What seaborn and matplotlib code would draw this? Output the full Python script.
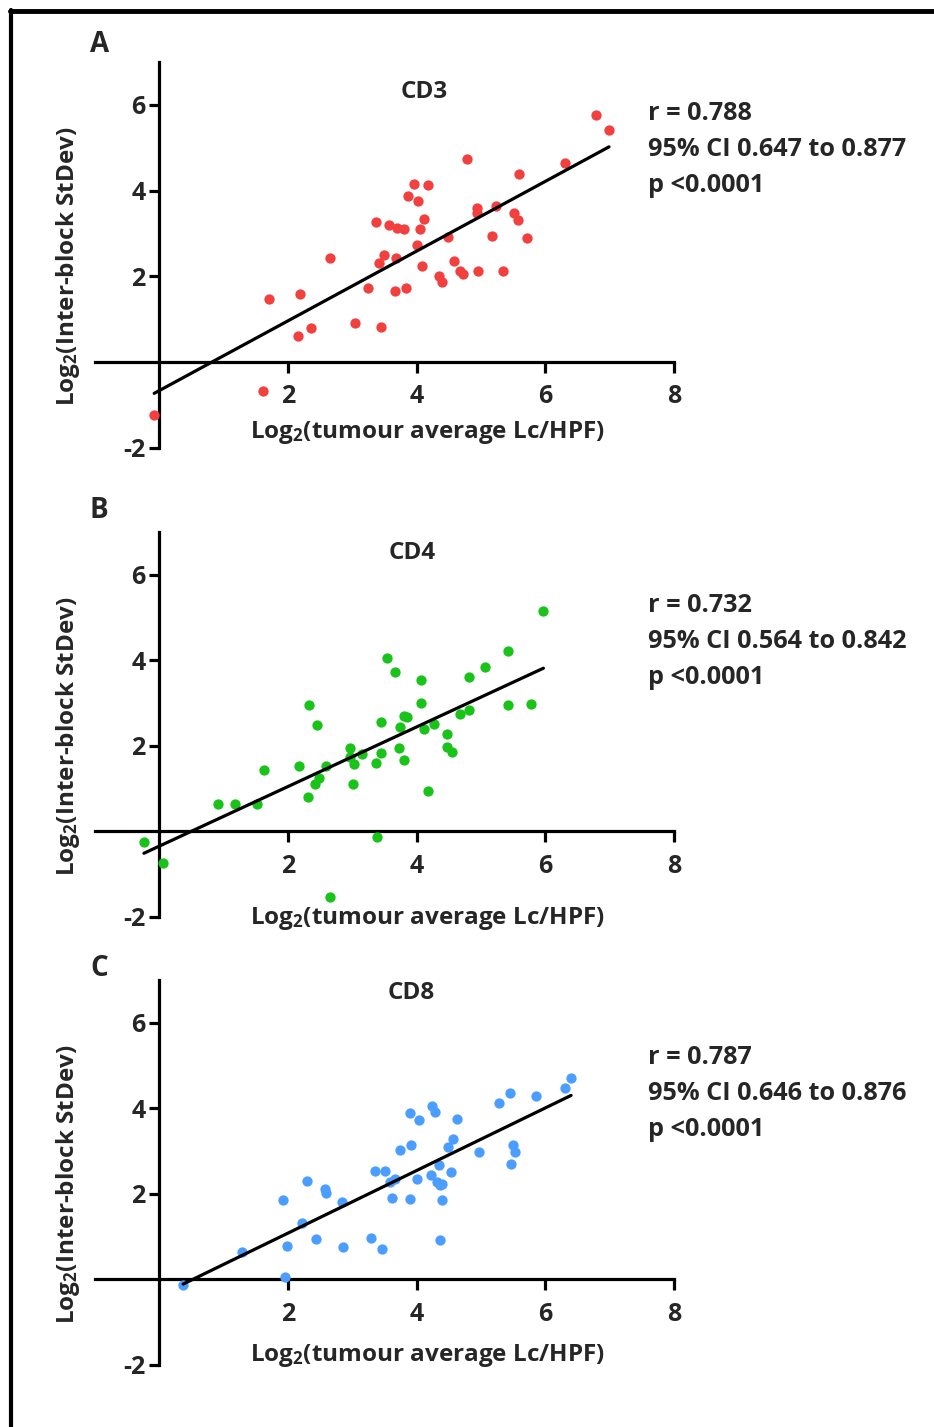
import numpy as np
import pandas as pd
import matplotlib
matplotlib.use("Agg")
import matplotlib.pyplot as plt
from matplotlib.lines import Line2D
import seaborn as sns

# ---------------- data ----------------
cd3_x = [6.78, 6.99, 6.31, 4.78, 5.59, 3.96, 4.17, 3.87, 4.02, 4.94, 4.94, 5.24,
         5.51, 5.58, 4.12, 3.37, 3.57, 3.70, 3.81, 4.05, 5.17, 5.71, 4.48, 4.01,
         3.49, 2.65, 3.68, 3.42, 4.09, 4.58, 4.67, 4.72, 4.96, 5.34, 4.34, 4.39,
         3.24, 3.66, 3.83, 1.71, 2.19, 2.36, 2.16, 3.04, 3.44, 1.61, -0.08]
cd3_y = [5.76, 5.42, 4.65, 4.73, 4.39, 4.16, 4.14, 3.88, 3.75, 3.60, 3.48, 3.65,
         3.47, 3.32, 3.34, 3.27, 3.21, 3.14, 3.10, 3.10, 2.95, 2.90, 2.91, 2.74,
         2.51, 2.44, 2.43, 2.32, 2.25, 2.37, 2.13, 2.05, 2.12, 2.12, 2.02, 1.88,
         1.74, 1.66, 1.74, 1.48, 1.59, 0.79, 0.60, 0.92, 0.82, -0.66, -1.22]

cd4_x = [5.97, 5.42, 3.54, 5.06, 3.67, 4.07, 4.82, 4.06, 2.33, 5.42, 5.78, 4.82,
         4.68, 3.80, 3.85, 2.45, 3.45, 4.27, 3.74, 4.12, 4.47, 2.97, 3.73, 4.47,
         4.55, 3.45, 3.15, 2.97, 3.02, 3.37, 3.80, 2.17, 2.59, 1.63, 2.48, 2.42,
         3.01, 2.31, 4.17, 0.91, 1.17, 1.52, 3.38, -0.24, 0.05, 2.65]
cd4_y = [5.16, 4.22, 4.05, 3.84, 3.72, 3.53, 3.60, 3.01, 2.95, 2.95, 2.97, 2.85,
         2.75, 2.69, 2.68, 2.48, 2.55, 2.52, 2.45, 2.39, 2.27, 1.95, 1.96, 1.98,
         1.85, 1.83, 1.81, 1.73, 1.57, 1.59, 1.67, 1.53, 1.53, 1.43, 1.26, 1.12,
         1.12, 0.81, 0.94, 0.63, 0.63, 0.63, -0.14, -0.24, -0.74, -1.54]

cd8_x = [6.40, 6.31, 5.85, 5.45, 5.28, 4.24, 4.28, 3.89, 4.03, 4.62, 4.56, 3.91,
         5.50, 5.53, 4.48, 3.74, 4.97, 5.46, 4.34, 3.35, 3.51, 4.54, 4.23, 3.66,
         3.59, 4.01, 4.31, 4.37, 4.40, 2.29, 2.57, 2.59, 1.93, 2.84, 3.61, 3.89,
         4.40, 2.21, 1.28, 1.99, 2.43, 3.29, 2.86, 3.46, 4.37, 1.96, 0.37]
cd8_y = [4.70, 4.48, 4.29, 4.35, 4.12, 4.05, 3.91, 3.89, 3.72, 3.74, 3.29, 3.14,
         3.14, 2.99, 3.09, 3.03, 2.98, 2.70, 2.67, 2.54, 2.53, 2.51, 2.44, 2.35,
         2.27, 2.35, 2.28, 2.21, 2.23, 2.29, 2.12, 2.02, 1.85, 1.82, 1.90, 1.88,
         1.85, 1.31, 0.64, 0.78, 0.94, 0.98, 0.76, 0.72, 0.92, 0.05, -0.14]

panel_letters = ["A", "B", "C"]
markers_names = ["CD3", "CD4", "CD8"]
stats_r = ["r = 0.788", "r = 0.732", "r = 0.787"]
stats_ci = ["95% CI 0.647 to 0.877", "95% CI 0.564 to 0.842", "95% CI 0.646 to 0.876"]
stats_p = ["p <0.0001", "p <0.0001", "p <0.0001"]
x_ticks = [2, 4, 6, 8]
y_ticks = [-2, 2, 4, 6]
xlabel = "Log$_2$(tumour average Lc/HPF)"
ylabel = "Log$_2$(Inter-block StDev)"

series = [(cd3_x, cd3_y), (cd4_x, cd4_y), (cd8_x, cd8_y)]
colors = ["#F2403F", "#19C319", "#4B9EFF"]

# ---------------- style ----------------
FONT = "Open Sans"
sns.set_theme(style="white")
plt.rcParams["font.family"] = [FONT, "DejaVu Sans"]
plt.rcParams["font.weight"] = "bold"
plt.rcParams["axes.unicode_minus"] = False
plt.rcParams["mathtext.fontset"] = "custom"
plt.rcParams["mathtext.rm"] = FONT + ":bold"
plt.rcParams["mathtext.it"] = FONT + ":bold"
plt.rcParams["mathtext.bf"] = FONT + ":bold"
plt.rcParams["mathtext.default"] = "rm"

W, H = 934, 1427
fig = plt.figure(figsize=(W / 100, H / 100), dpi=100)
fig.patch.set_facecolor("white")

def fx(px):
    return px / W

def fy(py):
    return 1 - py / H

# axes layout in pixels: (left, right, top, bottom)
ax_px = [(95, 674, 62, 448), (95, 674, 532, 917), (95, 674, 980, 1365)]
title_pos = [(0.568, 0.922), (0.547, 0.945), (0.547, 0.966)]
xlabel_pos = [(0.575, 0.039), (0.575, -0.003), (0.575, 0.025)]
letter_px = [(100, 45), (99, 510), (99, 968)]
stats_top_px = [113, 606, 1057]

FS = 17.5
FS_STATS = 18.2
for i, (xs, ys) in enumerate(series):
    l, r, t, b = ax_px[i]
    ax = fig.add_axes([fx(l), fy(b), fx(r) - fx(l), fy(t) - fy(b)])
    df = pd.DataFrame({"x": xs, "y": ys})
    sns.scatterplot(data=df, x="x", y="y", ax=ax, color=colors[i], s=55,
                    linewidth=0, zorder=3)
    sns.regplot(data=df, x="x", y="y", ax=ax, scatter=False, ci=None,
                truncate=True, line_kws=dict(color="black", lw=2.3, zorder=4))
    ax.set_xlim(-1, 8)
    ax.set_ylim(-2, 7)
    ax.set_facecolor("none")
    for s in ["top", "right"]:
        ax.spines[s].set_visible(False)
    ax.spines["left"].set_position(("data", 0))
    ax.spines["bottom"].set_position(("data", 0))
    ax.spines["left"].set_bounds(-2, 7)
    ax.spines["bottom"].set_bounds(-1, 8)
    for s in ["left", "bottom"]:
        ax.spines[s].set_linewidth(2.3)
        ax.spines[s].set_color("black")
        ax.spines[s].set_zorder(2)
    ax.set_xticks(x_ticks)
    ax.set_yticks(y_ticks)
    ax.tick_params(axis="x", direction="out", length=8, width=2.3, color="black",
                   labelsize=18, pad=8, bottom=True)
    ax.tick_params(axis="y", direction="out", length=7, width=2.3, color="black",
                   labelsize=18, pad=3, left=True)
    for lab in ax.get_xticklabels() + ax.get_yticklabels():
        lab.set_fontweight("bold")
    ax.set_xlabel("")
    ax.set_ylabel(ylabel, fontsize=FS, fontweight="bold")
    ax.yaxis.set_label_coords(-0.022, 0.47)
    ax.text(xlabel_pos[i][0], xlabel_pos[i][1], xlabel, transform=ax.transAxes,
            ha="center", va="center", fontsize=FS, fontweight="bold")
    ax.text(title_pos[i][0], title_pos[i][1], markers_names[i], transform=ax.transAxes,
            ha="center", va="center", fontsize=FS, fontweight="bold")
    ax.grid(False)

    # panel letter
    fig.text(fx(letter_px[i][0]), fy(letter_px[i][1]), panel_letters[i],
             ha="center", va="center", fontsize=20, fontweight="bold")
    # stats text
    for j, s in enumerate([stats_r[i], stats_ci[i], stats_p[i]]):
        fig.text(fx(648), fy(stats_top_px[i] + 36 * j), s, ha="left", va="center",
                 fontsize=FS_STATS, fontweight="bold")

# frame (left and top edges)
fig.add_artist(Line2D([fx(11), fx(11)], [fy(10), 0], color="black", lw=3,
                      transform=fig.transFigure))
fig.add_artist(Line2D([fx(9.5), 1], [fy(10.5), fy(10.5)], color="black", lw=3.5,
                      transform=fig.transFigure))

fig.savefig("out.png", dpi=100, facecolor="white")
